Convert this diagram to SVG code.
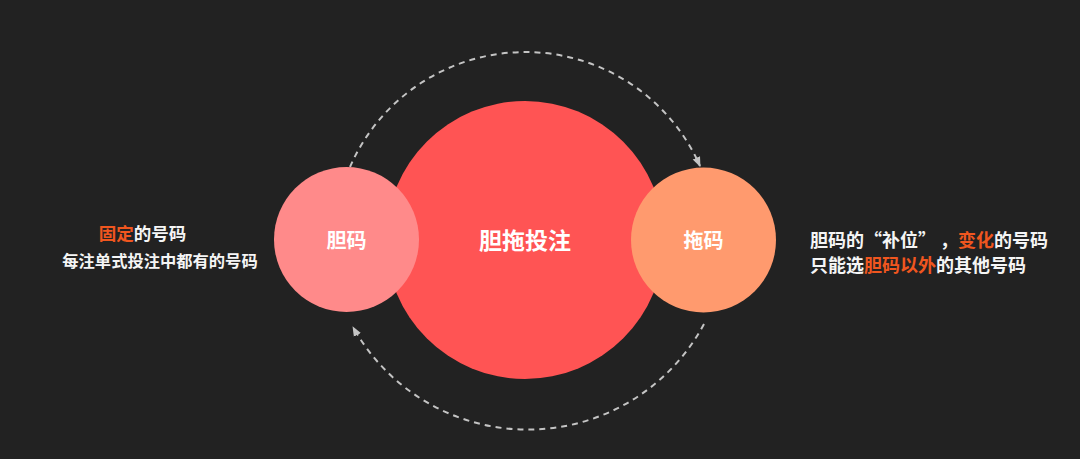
<svg xmlns="http://www.w3.org/2000/svg" width="1080" height="459" viewBox="0 0 1080 459">
  <defs>
    <marker id="arrow" markerUnits="userSpaceOnUse" markerWidth="10" markerHeight="10" viewBox="0 0 10 10" refX="9" refY="5" orient="auto">
      <path d="M0,1 L10,5 L0,9 Z" fill="#c4c4c4"/>
    </marker>
    <style>
      .bg { fill: #222222; }
      .arc { fill: none; stroke: #c4c4c4; stroke-width: 2; stroke-dasharray: 6 5; }
      .label { font-family: "Noto Sans CJK SC", "Noto Sans", sans-serif; font-weight: bold; fill: #ffffff; text-anchor: middle; }
      .side { font-family: "Noto Sans CJK SC", "Noto Sans", sans-serif; font-weight: bold; fill: #f5f5f5; }
      .hl { fill: #f0561f; }
    </style>
  </defs>
  <rect class="bg" x="0" y="0" width="1080" height="459"/>

  <g id="connectors">
    <path class="arc" d="M 350 167 A 191 191 0 0 1 700 166" marker-end="url(#arrow)"/>
    <path class="arc" d="M 704 324 A 200 200 0 0 1 353 327" marker-end="url(#arrow)"/>
  </g>

  <g id="node-center">
    <circle cx="525" cy="240" r="139" fill="#ff5454"/>
    <text class="label" x="525" y="249" font-size="23">胆拖投注</text>
  </g>

  <g id="node-dan">
    <circle cx="346.5" cy="239.5" r="72.5" fill="#ff8a8a"/>
    <text class="label" x="346.5" y="248" font-size="20">胆码</text>
  </g>

  <g id="node-tuo">
    <circle cx="703.5" cy="240" r="72.5" fill="#ff9a6e"/>
    <text class="label" x="703.5" y="248" font-size="20">拖码</text>
  </g>

  <g id="text-left">
    <text class="side" x="142.5" y="240" font-size="17.5" text-anchor="middle"><tspan class="hl">固定</tspan>的号码</text>
    <text class="side" x="160" y="267" font-size="16.3" text-anchor="middle">每注单式投注中都有的号码</text>
  </g>

  <g id="text-right">
    <text class="side" x="810" y="247" font-size="18">胆码的“补位”<tspan dx="13">，</tspan><tspan class="hl">变化</tspan>的号码</text>
    <text class="side" x="810" y="272" font-size="18">只能选<tspan class="hl">胆码以外</tspan>的其他号码</text>
  </g>
</svg>
